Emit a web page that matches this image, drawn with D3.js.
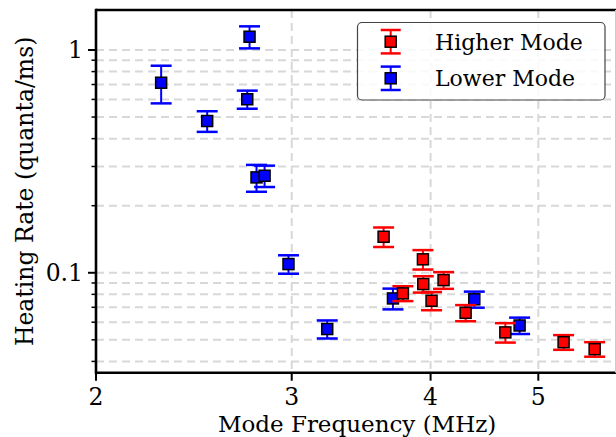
<!DOCTYPE html>
<html>
<head>
<meta charset="utf-8">
<script src="https://cdn.jsdelivr.net/npm/d3@7"></script>
<style>
  html, body { margin: 0; padding: 0; background: #fff; }
  svg { display: block; }
  text { font-family: "DejaVu Serif", serif; fill: #000; }
</style>
</head>
<body>
<svg id="chart" width="616" height="437"></svg>
<script>
// ---- data ----
const lowerFreq = [2.289, 2.518, 2.736, 2.749, 2.789, 2.836, 2.980, 3.229, 3.700, 4.379, 4.81];
const lowerRate = [0.713, 0.480, 0.601, 1.147, 0.268, 0.2726, 0.1094, 0.0559, 0.0767, 0.0760, 0.0580];
const lowerErr  = [0.137, 0.051, 0.056, 0.130, 0.037, 0.030, 0.0104, 0.0052, 0.0082, 0.0063, 0.0049];

const higherFreq = [3.629, 3.777, 3.937, 3.94, 4.008, 4.109, 4.301, 4.670, 5.269, 5.619];
const higherRate = [0.1451, 0.0808, 0.1149, 0.0890, 0.0749, 0.0927, 0.0661, 0.0540, 0.0488, 0.0454];
const higherErr  = [0.0146, 0.0062, 0.0115, 0.0075, 0.0070, 0.0080, 0.0055, 0.0054, 0.0037, 0.0034];

const xTicks = [2, 3, 4, 5];
const yMajorTicks = [0.1, 1];
const yMinorTicks = [0.04, 0.05, 0.06, 0.07, 0.08, 0.09, 0.2, 0.3, 0.4, 0.5, 0.6, 0.7, 0.8, 0.9];
const seriesNames = ["Higher Mode", "Lower Mode"];
const seriesColors = ["#ff0000", "#0000ff"];

// ---- layout ----
(function () {
const svg = d3.select("#chart");
const pL = 96, pR = 618.2, pT = 10, pB = 372.7;

const x = d3.scaleLog().domain([2, 5.9]).range([pL, pR]);
const y = d3.scaleLog().domain([0.0356, 1.512]).range([pB, pT]);

// grid
const grid = svg.append("g");
grid.selectAll("line.hy").data(yMajorTicks.concat(yMinorTicks)).enter().append("line")
  .attr("x1", pL).attr("x2", 616).attr("y1", d => y(d)).attr("y2", d => y(d))
  .attr("stroke", "#d8d8d8").attr("stroke-width", 2).attr("stroke-dasharray", "8,5");
grid.selectAll("line.vx").data(xTicks.slice(1)).enter().append("line")
  .attr("y1", pT).attr("y2", pB).attr("x1", d => x(d)).attr("x2", d => x(d))
  .attr("stroke", "#d8d8d8").attr("stroke-width", 2).attr("stroke-dasharray", "8,5");

// series
function drawSeries(freq, rate, err, color) {
  const g = svg.append("g");
  const data = freq.map((f, i) => ({f, r: rate[i], e: err[i]}));
  const capHalf = 10.5, sq = 11;
  g.selectAll("line.eb").data(data).enter().append("line")
    .attr("x1", d => x(d.f)).attr("x2", d => x(d.f))
    .attr("y1", d => y(d.r + d.e)).attr("y2", d => y(d.r - d.e))
    .attr("stroke", color).attr("stroke-width", 2);
  g.selectAll("line.ct").data(data).enter().append("line")
    .attr("x1", d => x(d.f) - capHalf).attr("x2", d => x(d.f) + capHalf)
    .attr("y1", d => y(d.r + d.e)).attr("y2", d => y(d.r + d.e))
    .attr("stroke", color).attr("stroke-width", 2.5);
  g.selectAll("line.cb").data(data).enter().append("line")
    .attr("x1", d => x(d.f) - capHalf).attr("x2", d => x(d.f) + capHalf)
    .attr("y1", d => y(d.r - d.e)).attr("y2", d => y(d.r - d.e))
    .attr("stroke", color).attr("stroke-width", 2.5);
  g.selectAll("rect").data(data).enter().append("rect")
    .attr("x", d => x(d.f) - sq / 2).attr("y", d => y(d.r) - sq / 2)
    .attr("width", sq).attr("height", sq)
    .attr("fill", color).attr("stroke", "#000").attr("stroke-width", 1.5);
}
drawSeries(lowerFreq, lowerRate, lowerErr, seriesColors[1]);
drawSeries(higherFreq, higherRate, higherErr, seriesColors[0]);

// axes
const fs = 23.5;
const yAxis = svg.append("g");
yAxis.selectAll("line.maj").data(yMajorTicks).enter().append("line")
  .attr("x1", pL - 8).attr("x2", pL).attr("y1", d => y(d)).attr("y2", d => y(d))
  .attr("stroke", "#000").attr("stroke-width", 2);
yAxis.selectAll("line.min").data(yMinorTicks).enter().append("line")
  .attr("x1", pL - 4.5).attr("x2", pL).attr("y1", d => y(d)).attr("y2", d => y(d))
  .attr("stroke", "#000").attr("stroke-width", 1.5);
yAxis.selectAll("text").data(yMajorTicks).enter().append("text")
  .attr("x", pL - 13).attr("y", d => y(d)).attr("dy", "0.36em")
  .attr("text-anchor", "end").attr("font-size", fs)
  .text(d => d3.format("~g")(d));

const xAxis = svg.append("g");
xAxis.selectAll("line").data(xTicks).enter().append("line")
  .attr("x1", d => x(d)).attr("x2", d => x(d)).attr("y1", pB).attr("y2", pB + 8)
  .attr("stroke", "#000").attr("stroke-width", 2);
xAxis.selectAll("text").data(xTicks).enter().append("text")
  .attr("x", d => x(d)).attr("y", pB + 32)
  .attr("text-anchor", "middle").attr("font-size", fs)
  .text(d => d);

// spines
svg.append("line").attr("x1", pL).attr("x2", pL).attr("y1", pT - 1.3).attr("y2", pB + 1.3)
  .attr("stroke", "#000").attr("stroke-width", 2.6);
svg.append("line").attr("x1", pL).attr("x2", 616).attr("y1", pB).attr("y2", pB)
  .attr("stroke", "#000").attr("stroke-width", 2.6);
svg.append("line").attr("x1", pL).attr("x2", 616).attr("y1", pT).attr("y2", pT)
  .attr("stroke", "#000").attr("stroke-width", 2.6);
svg.append("line").attr("x1", 615.5).attr("x2", 615.5).attr("y1", pT).attr("y2", pB)
  .attr("stroke", "#cccccc").attr("stroke-width", 1);

// axis labels
svg.append("text").attr("x", (pL + pR) / 2).attr("y", 431.6)
  .attr("text-anchor", "middle").attr("font-size", 23).text("Mode Frequency (MHz)");
svg.append("text").attr("transform", `translate(33,${(pT + pB) / 2}) rotate(-90)`)
  .attr("text-anchor", "middle").attr("font-size", fs).text("Heating Rate (quanta/ms)");

// legend
const lg = svg.append("g");
lg.append("rect").attr("x", 357.5).attr("y", 22.5).attr("width", 247.5).attr("height", 77.5)
  .attr("rx", 4.5).attr("fill", "#fff").attr("fill-opacity", 0.85)
  .attr("stroke", "#444").attr("stroke-width", 1.2);
const legendY = [41.7, 78.3];
seriesNames.forEach((name, i) => {
  const cx = 390.7, cy = legendY[i], color = seriesColors[i];
  lg.append("line").attr("x1", cx).attr("x2", cx).attr("y1", cy - 11.7).attr("y2", cy + 11.7)
    .attr("stroke", color).attr("stroke-width", 2);
  [-11.7, 11.7].forEach(o => lg.append("line").attr("x1", cx - 10).attr("x2", cx + 10)
    .attr("y1", cy + o).attr("y2", cy + o).attr("stroke", color).attr("stroke-width", 2.5));
  lg.append("rect").attr("x", cx - 5.5).attr("y", cy - 5.5).attr("width", 11).attr("height", 11)
    .attr("fill", color).attr("stroke", "#000").attr("stroke-width", 1.5);
  lg.append("text").attr("x", 435).attr("y", cy).attr("dy", "0.36em")
    .attr("font-size", 22).text(name);
});
})();
</script>
</body>
</html>
